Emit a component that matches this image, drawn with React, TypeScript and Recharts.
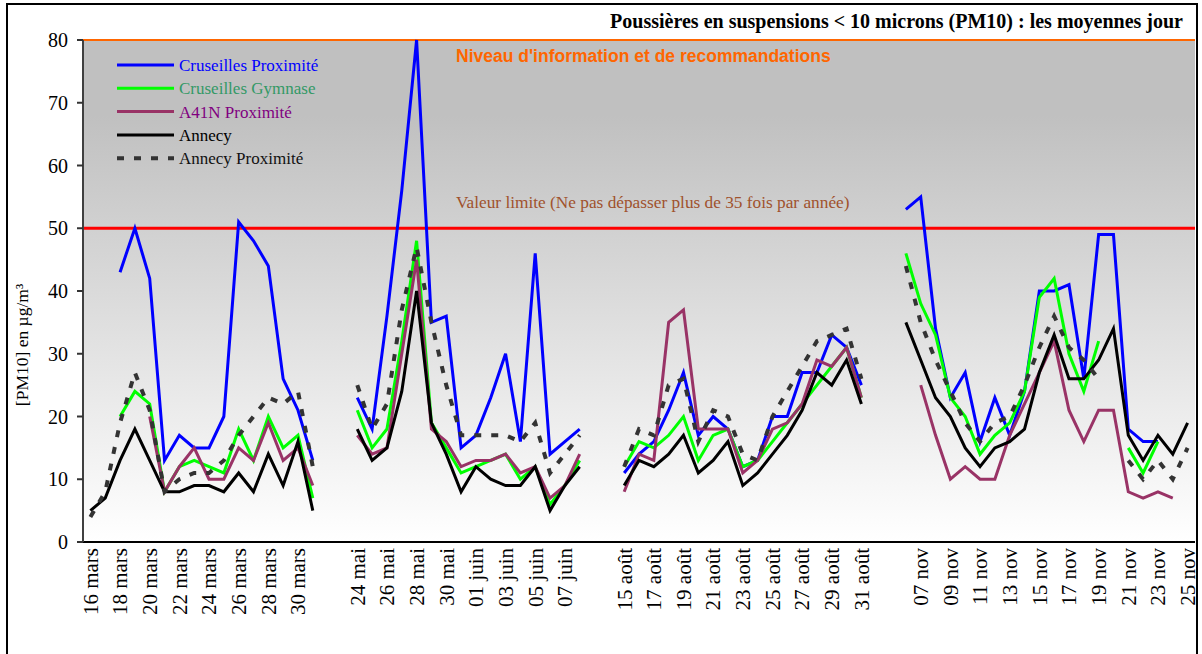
import React from 'react';
import {
    LineChart,
    Line,
    XAxis,
    YAxis,
    CartesianGrid,
    ReferenceLine
} from 'recharts';

// Catégories : 4 campagnes, séparées par deux jours vides
const marsDays = ['16 mars', '17 mars', '18 mars', '19 mars', '20 mars', '21 mars', '22 mars', '23 mars',
    '24 mars', '25 mars', '26 mars', '27 mars', '28 mars', '29 mars', '30 mars', '31 mars'];
const maiDays = ['24 mai', '25 mai', '26 mai', '27 mai', '28 mai', '29 mai', '30 mai', '31 mai',
    '01 juin', '02 juin', '03 juin', '04 juin', '05 juin', '06 juin', '07 juin', '08 juin'];
const aoutDays = ['15 août', '16 août', '17 août', '18 août', '19 août', '20 août', '21 août', '22 août',
    '23 août', '24 août', '25 août', '26 août', '27 août', '28 août', '29 août', '30 août', '31 août'];
const novDays = ['06 nov', '07 nov', '08 nov', '09 nov', '10 nov', '11 nov', '12 nov', '13 nov', '14 nov', '15 nov',
    '16 nov', '17 nov', '18 nov', '19 nov', '20 nov', '21 nov', '22 nov', '23 nov', '24 nov', '25 nov'];
const gap = ['', ''];

const labels = [...marsDays, ...gap, ...maiDays, ...gap, ...aoutDays, ...gap, ...novDays];

// Moyennes jour PM10 (µg/m3), null = pas de mesure
const cruseillesProximite = [
    null, null, 43, 50, 42, 13, 17, 15, 15, 20, 51, 48, 44, 26, 21, 13,
    null, null,
    23, 18, 36, 56, 80, 35, 36, 15, 17, 23, 30, 16, 46, 14, 16, 18,
    null, null,
    11, 14, 16, 21, 27, 17, 20, 18, 12, 13, 20, 20, 27, 27, 33, 31, 25,
    null, null,
    53, 55, 34, 23, 27, 16, 23, 17, 24, 40, 40, 41, 26, 49, 49, 18, 16, 16, null, null
];
const cruseillesGymnase = [
    null, null, 20, 24, 22, 8, 12, 13, 12, 11, 18, 13, 20, 15, 17, 7,
    null, null,
    21, 15, 18, 32, 48, 19, 15, 11, 12, 13, 14, 10, 12, 6, 9, 13,
    null, null,
    12, 16, 15, 17, 20, 13, 17, 18, 12, 13, 16, 19, 22, 25, 28, 31, 23,
    null, null,
    46, 38, 33, 23, 20, 14, 17, 19, 24, 39, 42, 30, 24, 32, null, 15, 11, 16, null, null
];
const a41nProximite = [
    null, null, null, null, 20, 8, 12, 15, 10, 10, 15, 13, 19, 13, 15, 9,
    null, null,
    17, 14, 15, 30, 45, 18, 16, 12, 13, 13, 14, 11, 12, 7, 9, 14,
    null, null,
    8, 14, 13, 35, 37, 18, 18, 18, 11, 13, 18, 19, 22, 29, 28, 31, 23,
    null, null,
    null, 25, 17, 10, 12, 10, 10, 17, 22, 27, 32, 21, 16, 21, 21, 8, 7, 8, 7, null
];
const annecy = [
    5, 7, 13, 18, 13, 8, 8, 9, 9, 8, 11, 8, 14, 9, 16, 5,
    null, null,
    18, 13, 15, 24, 40, 19, 14, 8, 12, 10, 9, 9, 12, 5, 9, 12,
    null, null,
    9, 13, 12, 14, 17, 11, 13, 16, 9, 11, 14, 17, 21, 27, 25, 29, 22,
    null, null,
    35, 29, 23, 20, 15, 12, 15, 16, 18, 27, 33, 26, 26, 29, 34, 17, 13, 17, 14, 19
];
const annecyProximite = [
    4, 8, 19, 27, 21, 8, 10, 11, 11, 13, 17, 20, 23, 22, 24, 12,
    null, null,
    25, 18, 22, 37, 47, 35, 25, 17, 17, 17, 17, 16, 19, 11, 14, 17,
    null, null,
    12, 18, 17, 25, 26, 16, 21, 20, 14, 13, 20, 24, 28, 32, 33, 34, 26,
    null, null,
    44, 35, 29, 24, 19, 16, 19, 20, 25, 31, 36, 31, 29, 26, null, 13, 10, 13, 10, 15
];

const yTicks = [0, 10, 20, 30, 40, 50, 60, 70, 80];

const series = [
    { key: 'cp', name: 'Cruseilles Proximité', color: '#0000ff', text: '#0000ff', dash: undefined, width: 3 },
    { key: 'cg', name: 'Cruseilles Gymnase', color: '#00ff00', text: '#339966', dash: undefined, width: 3 },
    { key: 'a41', name: 'A41N Proximité', color: '#993366', text: '#800080', dash: undefined, width: 3 },
    { key: 'an', name: 'Annecy', color: '#000000', text: '#000000', dash: undefined, width: 3 },
    { key: 'ap', name: 'Annecy Proximité', color: '#333333', text: '#111111', dash: '7 10', width: 4 }
];

const data = labels.map((label, i) => ({
    label,
    cp: cruseillesProximite[i],
    cg: cruseillesGymnase[i],
    a41: a41nProximite[i],
    an: annecy[i],
    ap: annecyProximite[i]
}));

const serif = '"Liberation Serif", "Times New Roman", serif';
const sans = '"Liberation Sans", Arial, sans-serif';

const DayTick = ({ x, y, payload }: any) => (
    <g transform={`translate(${x},${y})`}>
        <text transform="rotate(-90)" textAnchor="end" dy="0.35em" fill="#000" style={{ fontSize: 21, fontFamily: serif }}>
            {payload.value}
        </text>
    </g>
);

const LegendBox = () => (
    <svg width={340} height={120} style={{ position: 'absolute', left: 117, top: 55 }}>
        {series.map((s, i) => {
            const y = 10 + i * 23.3;
            return (
                <g key={s.key}>
                    <line x1={0} x2={57} y1={y} y2={y} stroke={s.color} strokeWidth={s.width} strokeDasharray={s.dash} />
                    <text x={62} y={y} dy="0.35em" fill={s.text} style={{ fontSize: 17, fontFamily: serif }}>{s.name}</text>
                </g>
            );
        })}
    </svg>
);

export default function App() {
    return (
        <div style={{
            position: 'absolute', left: 0, top: 0, width: 1202, height: 654,
            background: '#fff', overflow: 'hidden', fontFamily: serif
        }}>
            <div style={{
                position: 'absolute', left: 6, top: 3, width: 1192, height: 720,
                border: '2px solid #000', boxSizing: 'border-box'
            }} />
            <div style={{
                position: 'absolute', right: 19, top: 11, fontFamily: serif, fontWeight: 'bold',
                fontSize: 20, lineHeight: '20px', color: '#000', whiteSpace: 'nowrap'
            }}>
                Poussières en suspensions &lt; 10 microns (PM10) : les moyennes jour
            </div>
            <div style={{ position: 'absolute', left: 0, top: 0 }}>
                <LineChart width={1202} height={654} data={data} margin={{ top: 40, right: 7, bottom: 0, left: 0 }}>
                    <defs>
                        <linearGradient id="fond" x1="0" y1="0" x2="0" y2="1">
                            <stop offset="0%" stopColor="#c0c0c0" />
                            <stop offset="15%" stopColor="#c0c0c0" />
                            <stop offset="100%" stopColor="#ffffff" />
                        </linearGradient>
                    </defs>
                    <CartesianGrid horizontal={false} vertical={false} fill="url(#fond)" stroke="none" />
                    <XAxis
                        dataKey="label"
                        interval={1}
                        height={112}
                        padding={{ left: 7.4, right: 7.4 }}
                        tick={<DayTick />}
                        tickLine={false}
                        tickSize={0}
                        tickMargin={6}
                        axisLine={{ stroke: '#000', strokeWidth: 2 }}
                    />
                    <YAxis
                        width={83}
                        domain={[0, 80]}
                        ticks={yTicks}
                        interval={0}
                        tickSize={6}
                        tickMargin={9}
                        tick={{ fontSize: 20, fill: '#000', style: { fontFamily: serif } }}
                        tickLine={{ stroke: '#333', strokeWidth: 2 }}
                        axisLine={{ stroke: '#404040', strokeWidth: 2 }}
                        label={() => (
                            <text
                                x={22}
                                y={345}
                                transform="rotate(-90, 22, 345)"
                                textAnchor="middle"
                                dy="0.35em"
                                fill="#000"
                                style={{ fontSize: 17.5, fontFamily: serif }}
                            >
                                [PM10] en µg/m³
                            </text>
                        )}
                    />
                    <ReferenceLine
                        y={80}
                        stroke="#ff6600"
                        strokeWidth={2}
                        label={({ viewBox }: any) => (
                            <text x={viewBox.x + 373} y={viewBox.y + 22} fill="#ff6600"
                                style={{ fontSize: 17.5, fontWeight: 'bold', fontFamily: sans }}>
                                Niveau d'information et de recommandations
                            </text>
                        )}
                    />
                    <ReferenceLine
                        y={50}
                        stroke="#ff0000"
                        strokeWidth={3}
                        label={({ viewBox }: any) => (
                            <text x={viewBox.x + 373} y={viewBox.y - 20} fill="#a0522d"
                                style={{ fontSize: 17.3, fontFamily: serif }}>
                                Valeur limite (Ne pas dépasser plus de 35 fois par année)
                            </text>
                        )}
                    />
                    {series.map((s) => (
                        <Line
                            key={s.key}
                            type="linear"
                            dataKey={s.key}
                            name={s.name}
                            stroke={s.color}
                            strokeWidth={s.width}
                            strokeDasharray={s.dash}
                            dot={false}
                            activeDot={false}
                            isAnimationActive={false}
                        />
                    ))}
                </LineChart>
            </div>
            <LegendBox />
        </div>
    );
}
